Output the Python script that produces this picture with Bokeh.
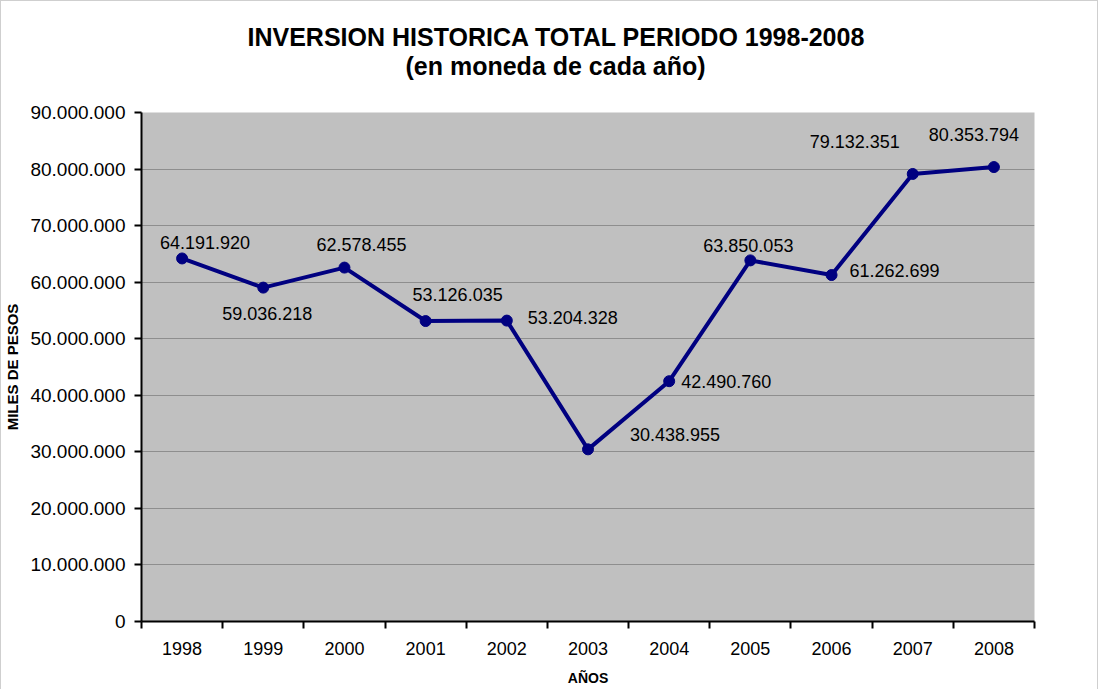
from bokeh.plotting import figure
from bokeh.models import ColumnDataSource, LabelSet, FixedTicker, Range1d, Title
from bokeh.core.properties import value
from bokeh.embed import file_html
from bokeh.resources import INLINE

# ---- data ----
years = [1998, 1999, 2000, 2001, 2002, 2003, 2004, 2005, 2006, 2007, 2008]
inversion = [64191920, 59036218, 62578455, 53126035, 53204328, 30438955,
             42490760, 63850053, 61262699, 79132351, 80353794]
y_ticks = [0, 10000000, 20000000, 30000000, 40000000, 50000000,
           60000000, 70000000, 80000000, 90000000]
y_tick_labels = ["0", "10.000.000", "20.000.000", "30.000.000", "40.000.000",
                 "50.000.000", "60.000.000", "70.000.000", "80.000.000", "90.000.000"]
title_1 = "INVERSION HISTORICA TOTAL PERIODO 1998-2008"
title_2 = "(en moneda de cada año)"
x_title = "AÑOS"
y_title = "MILES DE PESOS"

# label placement (pixels relative to each point, positive dy = up)
label_dx = [23, 4, 17, 32, 66, 87, 57, -2, 63, -58, -20]
label_dy = [16, -26, 23, 27, 3, 15, 0, 15, 5, 32, 33]

FONT = "Liberation Sans"
labels = [f"{v:,}".replace(",", ".") for v in inversion]

src = ColumnDataSource(dict(x=years, y=inversion, txt=labels,
                            dx=label_dx, dy=label_dy))

p = figure(width=1098, height=689, output_backend="svg", toolbar_location=None,
           x_range=Range1d(years[0] - 0.5, years[-1] + 0.5),
           y_range=Range1d(y_ticks[0], y_ticks[-1]),
           min_border_left=139, min_border_right=65,
           min_border_top=111, min_border_bottom=69)
p.styles = {"border-left": "1px solid #cfcfcf", "border-top": "1px solid #cfcfcf",
            "border-right": "1px solid #cfcfcf"}
p.background_fill_color = "#c0c0c0"
p.border_fill_color = "white"
p.outline_line_color = None

# grid
p.xgrid.grid_line_color = None
p.ygrid.grid_line_color = "#8e8e8e"
p.ygrid.grid_line_width = 1
p.ygrid.ticker = FixedTicker(ticks=y_ticks)

# y axis
p.yaxis.ticker = FixedTicker(ticks=y_ticks)
p.yaxis.major_label_overrides = {t: l for t, l in zip(y_ticks, y_tick_labels)}
p.yaxis.axis_line_width = 2
p.yaxis.axis_line_color = "black"
p.yaxis.major_tick_line_width = 2
p.yaxis.major_tick_out = 7
p.yaxis.major_tick_in = 0
p.yaxis.minor_tick_line_color = None
p.yaxis.major_label_standoff = 9
p.yaxis.major_label_text_font = FONT
p.yaxis.major_label_text_font_size = "19px"
p.yaxis.major_label_text_color = "black"
p.yaxis.axis_label = y_title
p.yaxis.axis_label_text_font = FONT
p.yaxis.axis_label_text_font_style = "bold"
p.yaxis.axis_label_text_font_size = "15px"
p.yaxis.axis_label_text_color = "black"
p.yaxis.axis_label_standoff = 6

# x axis
xb = [years[0] - 0.5 + i for i in range(len(years) + 1)]
p.xaxis.ticker = FixedTicker(ticks=years, minor_ticks=xb)
p.xaxis.axis_line_width = 2
p.xaxis.axis_line_color = "black"
p.xaxis.major_tick_out = 0
p.xaxis.major_tick_in = 0
p.xaxis.minor_tick_out = 7
p.xaxis.minor_tick_in = 0
p.xaxis.minor_tick_line_width = 2
p.xaxis.minor_tick_line_color = "black"
p.xaxis.major_label_standoff = 13
p.xaxis.major_label_text_font = FONT
p.xaxis.major_label_text_font_size = "18px"
p.xaxis.major_label_text_color = "black"
p.xaxis.axis_label = x_title
p.xaxis.axis_label_text_font = FONT
p.xaxis.axis_label_text_font_style = "bold"
p.xaxis.axis_label_text_font_size = "14px"
p.xaxis.axis_label_text_color = "black"
p.xaxis.axis_label_standoff = 12

# series
p.line("x", "y", source=src, line_color="#000080", line_width=4)
p.scatter("x", "y", source=src, size=11, fill_color="#000080", line_color="#000080")

p.add_layout(LabelSet(x="x", y="y", text="txt", source=src,
                      x_offset="dx", y_offset="dy",
                      text_align="center", text_baseline="middle",
                      text_font=value(FONT), text_font_size="18px",
                      text_color="black"))

# titles: spacer nearest the plot, then subtitle, then main title
p.add_layout(Title(text=" ", standoff=30, text_font_size="1px"), "above")
p.add_layout(Title(text=title_2, align="left", offset=264, standoff=0,
                   text_font=FONT, text_font_style="bold",
                   text_font_size="25px", text_color="black"), "above")
p.add_layout(Title(text=title_1, align="left", offset=106, standoff=-2,
                   text_font=FONT, text_font_style="bold",
                   text_font_size="25px", text_color="black"), "above")

open("out.html", "w").write(file_html(p, INLINE))
